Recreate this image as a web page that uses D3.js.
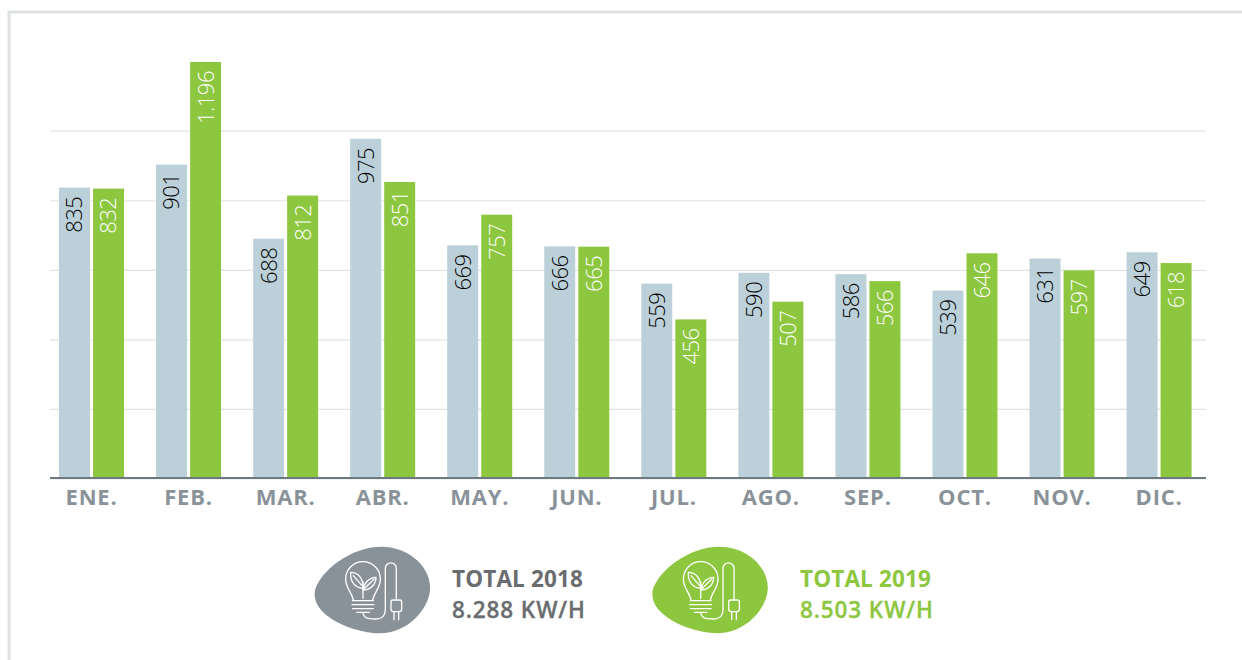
<!DOCTYPE html>
<html><head><meta charset="utf-8">
<script src="https://cdn.jsdelivr.net/npm/d3@7/dist/d3.min.js"></script>
<style>html,body{margin:0;padding:0;background:#fff}svg{display:block}</style>
</head><body><div id="c"></div>
<script>
const months = ["ENE.","FEB.","MAR.","ABR.","MAY.","JUN.","JUL.","AGO.","SEP.","OCT.","NOV.","DIC."];
const values2018 = [835,901,688,975,669,666,559,590,586,539,631,649];
const values2019 = [832,1196,812,851,757,665,456,507,566,646,597,618];
const seriesNames = ["2018","2019"];
const gridTicks = [0,200,400,600,800,1000];
const totals = [["TOTAL 2018","8.288 KW/H"],["TOTAL 2019","8.503 KW/H"]];

const W=1242,H=660,font="'Open Sans','Noto Sans',sans-serif";
const GREEN="#8dc63f",BLUE="#bcd0d9",GREY="#8a9299",TEXT="#6a6d70";
const svg=d3.select("#c").append("svg").attr("width",W).attr("height",H).style("font-family",font);
svg.append("path").attr("d",`M9,${H} V12 H${W}`).attr("fill","none").attr("stroke","#dde1df").attr("stroke-width",3);

const x0=d3.scaleBand().domain(months).range([43,1207.6]);
const x1=d3.scaleBand().domain(seriesNames).range([-32.5,32.5]).paddingInner(0.09);
const y=d3.scaleLinear().domain([0,1196]).range([478,62]);

const grid=svg.append("g").attr("transform","translate(50,0.5)")
  .call(d3.axisLeft(y).tickValues(gridTicks).tickSize(-1156).tickFormat(""));
grid.select(".domain").remove();
grid.selectAll("line").attr("stroke","#e2e4e4").attr("stroke-width",1.2);

const groups=svg.selectAll("g.m").data(months).join("g").attr("class","m")
  .attr("transform",d=>`translate(${x0(d)+x0.bandwidth()/2},0)`);
const rows=(d,i)=>[{s:"2018",v:values2018[i]},{s:"2019",v:values2019[i]}];
groups.selectAll("rect").data(rows).join("rect")
  .attr("x",d=>x1(d.s)).attr("width",x1.bandwidth())
  .attr("y",d=>y(d.v)).attr("height",d=>y(0)-y(d.v))
  .attr("fill",d=>d.s==="2018"?BLUE:GREEN);
const fmt=v=>d3.format(",")(v).replace(",",".");
groups.selectAll("text").data(rows).join("text")
  .attr("transform",d=>`translate(${x1(d.s)+x1.bandwidth()/2},${y(d.v)+9}) rotate(-90)`)
  .attr("text-anchor","end").attr("dy","0.36em")
  .attr("font-size",22).attr("font-weight",300).attr("letter-spacing",-0.5)
  .attr("fill",d=>d.s==="2018"?"#000":"#fff")
  .text(d=>fmt(d.v));

const ax=svg.append("g").attr("transform","translate(0,478)")
  .call(d3.axisBottom(x0).tickSize(0).tickPadding(11));
ax.select(".domain").remove();
ax.selectAll("text").attr("font-family",font).attr("font-size",22).attr("font-weight",700)
  .attr("fill",GREY).attr("letter-spacing",0.8);
svg.append("line").attr("x1",50).attr("x2",1206).attr("y1",y(0)).attr("y2",y(0))
  .attr("stroke","#6c7a80").attr("stroke-width",2);

function badge(tx,fill,lines,textX,textFill){
  const g=svg.append("g").attr("transform",`translate(${tx},535) scale(${1/3})`);
  g.append("path").attr("fill",fill)
   .attr("d","M45,165 C60,110 150,35 245,35 C330,35 395,100 390,165 C385,225 320,295 240,295 C165,295 30,245 45,165Z");
  const ic=g.append("g").attr("fill","none").attr("stroke","#fff").attr("stroke-width",4)
    .attr("stroke-linecap","round").attr("stroke-linejoin","round");
  [
   "M160,195 C155,170 137,160 137,132 A52,52 0 0 1 241,132 C241,160 223,170 218,195",
   "M158,197 H220 M156,209 H222 M158,221 H220 M170,232 H208",
   "M189,232 C190,250 205,252 225,252 C250,252 256,240 256,220 V100 A16.5,16.5 0 0 1 289,100 V195",
   "M273,200 Q273,195 280,195 H298 Q305,195 305,200 V222 Q305,230 297,230 H281 Q273,230 273,222 Z",
   "M282,230 V254 M296,230 V254",
   "M189,190 V140",
   "M189,160 C165,158 150,140 152,112 C175,112 190,130 189,160 Z M160,122 L186,152",
   "M189,165 C192,145 205,128 228,127 C228,148 212,165 189,165 Z M222,133 L194,160"
  ].forEach(d=>ic.append("path").attr("d",d));
  lines.forEach((t,i)=>svg.append("text").attr("x",textX).attr("y",587+i*31)
    .attr("font-size",22.5).attr("font-weight",i?600:700).attr("letter-spacing",i?0.9:0.15)
    .attr("stroke",i?textFill:"none").attr("stroke-width",i?0.3:0)
    .attr("fill",textFill).text(t));
}
badge(300,GREY,totals[0],452,TEXT);
badge(637.7,GREEN,totals[1],800,GREEN);
</script></body></html>
